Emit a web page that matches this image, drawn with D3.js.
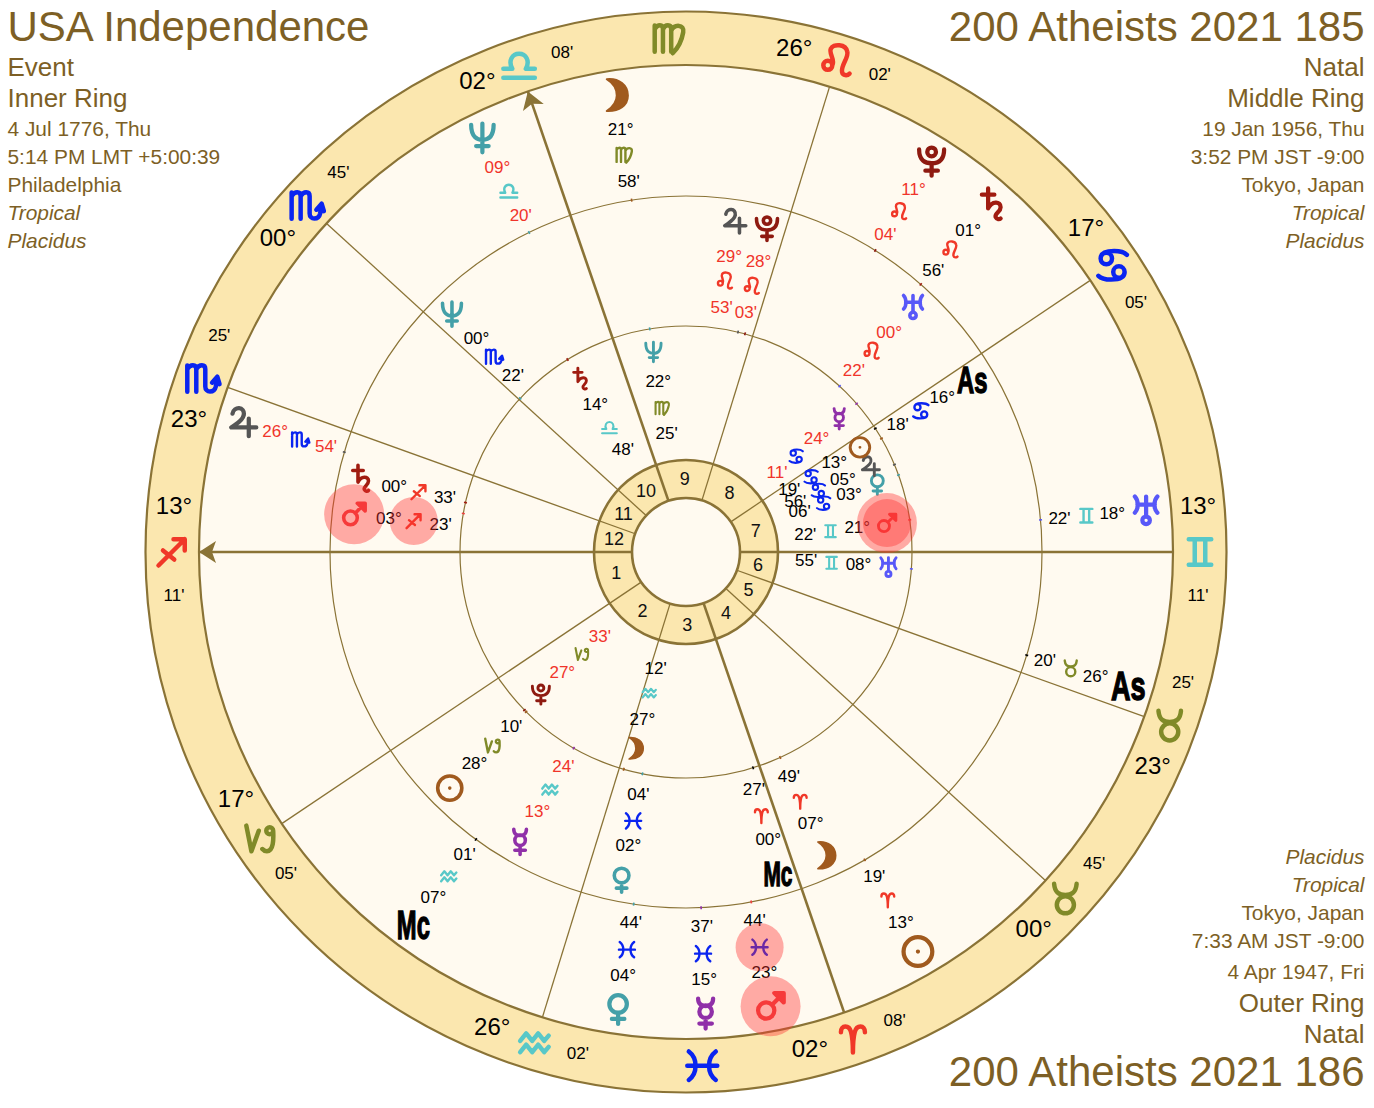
<!DOCTYPE html>
<html>
<head>
<meta charset="utf-8">
<title>Tri-wheel chart</title>
<script src="https://cdn.jsdelivr.net/npm/d3@7.9.0/dist/d3.min.js"></script>
<style>
  html, body { margin: 0; padding: 0; background: #fff; }
  svg { display: block; font-family: "Liberation Sans", Arial, sans-serif; }
</style>
</head>
<body>
<svg id="wheel" width="1374" height="1108"></svg>
<script>
// chart text
const leftLines = ['USA Independence', 'Event', 'Inner Ring', '4 Jul 1776, Thu', '5:14 PM LMT +5:00:39', 'Philadelphia', 'Tropical', 'Placidus'];
const rightLines = ['200 Atheists 2021 185', 'Natal', 'Middle Ring', '19 Jan 1956, Thu', '3:52 PM JST -9:00', 'Tokyo, Japan', 'Tropical', 'Placidus'];
const bottomLines = ['Placidus', 'Tropical', 'Tokyo, Japan', '7:33 AM JST -9:00', '4 Apr 1947, Fri', 'Outer Ring', 'Natal', '200 Atheists 2021 186'];

const signNames = ['Ari', 'Tau', 'Gem', 'Can', 'Leo', 'Vir', 'Lib', 'Sco', 'Sag', 'Cap', 'Aqu', 'Pis'];

// house cusps, house 1 first
const cuspSigns = ['Sag', 'Cap', 'Aqu', 'Ari', 'Tau', 'Tau', 'Gem', 'Can', 'Leo', 'Lib', 'Sco', 'Sco'];
const cuspDeg = [13, 17, 26, 2, 0, 23, 13, 17, 26, 2, 0, 23];
const cuspMin = [11, 5, 2, 8, 45, 25, 11, 5, 2, 8, 45, 25];
const axisHouses = [1, 4, 7, 10];
const arrowHouses = [1, 10];
// signs with no cusp, shown mid-sign
const interceptedSigns = ['Vir', 'Pis'];

// inner ring
const innerBodies = ['Neptune', 'Saturn', 'Moon', 'Mars', 'Uranus', 'Venus', 'Jupiter', 'Sun', 'Mercury', 'Pluto'];
const innerSigns = ['Vir', 'Lib', 'Aqu', 'Gem', 'Gem', 'Can', 'Can', 'Can', 'Can', 'Cap'];
const innerDeg = [22, 14, 27, 21, 8, 3, 5, 13, 24, 27];
const innerMin = [25, 48, 12, 22, 55, 6, 56, 19, 11, 33];
const innerRetro = [0, 0, 0, 0, 0, 0, 0, 0, 1, 1];
const innerDodge = [0, 0, 1.4, 0, 0, -0.4, 2.2, 0.9, 0, 0];

// middle ring
const middleBodies = ['Sun', 'Moon', 'Mercury', 'Venus', 'Mars', 'Jupiter', 'Saturn', 'Uranus', 'Neptune', 'Pluto', 'As', 'Mc'];
const middleSigns = ['Cap', 'Ari', 'Aqu', 'Pis', 'Sag', 'Leo', 'Sag', 'Leo', 'Sco', 'Leo', 'Can', 'Ari'];
const middleDeg = [28, 7, 13, 2, 3, 29, 0, 0, 0, 28, 16, 0];
const middleMin = [10, 49, 24, 4, 23, 53, 33, 22, 22, 3, 18, 27];
const middleRetro = [0, 0, 1, 0, 0, 1, 0, 1, 0, 1, 0, 0];
const middleDodge = [0, 0, 0, 0, 3.3, 5, 0, 0, -2.7, 1.1, -2.1, -1.3];

// outer ring
const outerBodies = ['Sun', 'Moon', 'Mercury', 'Venus', 'Mars', 'Jupiter', 'Saturn', 'Uranus', 'Neptune', 'Pluto', 'As', 'Mc'];
const outerSigns = ['Ari', 'Vir', 'Pis', 'Pis', 'Pis', 'Sco', 'Leo', 'Gem', 'Lib', 'Leo', 'Tau', 'Aqu'];
const outerDeg = [13, 21, 15, 4, 23, 26, 1, 18, 9, 11, 26, 7];
const outerMin = [19, 58, 37, 44, 44, 54, 56, 22, 20, 4, 20, 1];
const outerRetro = [0, 0, 0, 0, 0, 1, 0, 0, 1, 1, 0, 0];
const outerDodge = [0, 0, 0, 0, 0, 0, 0, 0, 0, 0, 0, 0];

const cx = 686, cy = 552;
const R = { outer: 540.5, zodiac: 487, mid: 356, inner: 226, house: 92, hub: 54 };
const ink = '#8a7336';
const textInk = '#7d5f25';
const red = '#f0342a';

const bodyColor = {
  Sun: '#a05a1e', Moon: '#a05a1e', Mercury: '#9030a8', Venus: '#44a0a8', Mars: '#f04040',
  Jupiter: '#555555', Saturn: '#a01c10', Uranus: '#5858f8', Neptune: '#44a0a8', Pluto: '#8e1a10',
  As: '#000', Mc: '#000'
};
const signColor = {
  Ari: '#f03828', Leo: '#f03828', Sag: '#f03828',
  Tau: '#808a28', Vir: '#808a28', Cap: '#808a28',
  Gem: '#58c8c8', Lib: '#58c8c8', Aqu: '#58c8c8',
  Can: '#0a24f0', Sco: '#0a24f0', Pis: '#0a24f0'
};

function ring(x, y, r) {
  return `M${x - r},${y}a${r},${r} 0 1,0 ${2 * r},0a${r},${r} 0 1,0 ${-2 * r},0`;
}

// glyph outlines in a 24 unit box around 0,0
const glyphs = {
  Sun: ring(0, 0, 11.5) + 'M0,0h.01',
  Moon: 'M-7,-13C3,-14 10,-8 10,0C10,8 3,13 -7,12.5C-2,9 1,4 1,0C1,-5 -2,-10 -7,-13Z',
  Mercury: 'M-6,-12C-6,-7 -3,-6 0,-6C3,-6 6,-7 6,-12' + ring(0, -1.5, 5) + 'M0,3.5V12M-5,8H5',
  Venus: ring(0, -4, 7) + 'M0,3V12M-5,8H5',
  Mars: ring(-3.5, 3.5, 6.5) + 'M1,-1L9,-9M3,-10.5H10.5V-3Z',
  Jupiter: 'M-8,-7C-7,-13 2,-13 1,-6C0,-1 -5,1 -9,4H11M5,-3V11',
  Saturn: 'M-7,-8H3M-2,-13V3C1,-3 8,-3 8,2C8,6 3,7 4,10C5,12 7,12 8,11',
  Uranus: 'M-9,-11C-6,-8 -6,-1 -9,2M9,-11C6,-8 6,-1 9,2M-7,-4.5H7M0,-11V4' + ring(0, 8, 3),
  Neptune: 'M-9,-10C-9,0 -4,2 0,2C4,2 9,0 9,-10M0,-11V12M-5,7H5',
  Pluto: 'M-10,-9C-10,0 -5,2 0,2C5,2 10,0 10,-9' + ring(0, -7, 3.5) + 'M0,2V12M-5,8H5',
  Ari: 'M-8,-4C-8,-9 -2.5,-9 -1.2,-4C-0.4,-1 0,3 0,9.5C0,3 0.4,-1 1.2,-4C2.5,-9 8,-9 8,-4',
  Tau: ring(0, 4, 5.7) + 'M-7.5,-10C-7,-4 -4,-2.5 0,-2.5C4,-2.5 7,-4 7.5,-10',
  Gem: 'M-7.5,-8.5H7.5M-7.5,8.5H7.5M-3.5,-8.5V8.5M3.5,-8.5V8.5',
  Can: ring(-4.2, -4.5, 3.8) + ring(4.2, 4.5, 3.8) + 'M-8,-4.5C-8,-9 -3,-9.5 1,-9.5C4,-9.5 7.5,-9 9.5,-7M8,4.5C8,9 3,9.5 -1,9.5C-4,9.5 -7.5,9 -9.5,7',
  Leo: ring(-6.5, 3, 3) + 'M-3.5,3C-1.5,-1 -6,-5 -4.5,-8C-3,-11.5 5.5,-11.5 6.5,-6C7.5,-2 2,3 3,7.5C3.5,10 6.5,10 8,8.5',
  Vir: 'M-10,-8.5V9M-10,-6C-8,-9.5 -4.5,-9.5 -4.5,-6V9M-4.5,-6C-3,-9.5 1,-9.5 1,-6V9M1,-5C3,-9.5 10,-9.5 9,-4C8,2 5.5,6.5 2,10',
  Lib: 'M-10.5,8H10.5M-10.5,2H-4.5C-7.5,-3.5 -4.5,-8 0,-8C4.5,-8 7.5,-3.5 4.5,2H10.5',
  Sco: 'M-10,-8.5V9M-10,-6C-8,-9.5 -4,-9.5 -4,-6V9M-4,-6C-2,-9.5 2,-9.5 2,-6V5.5C2,10 8,10 9,5.5L10,0M6.5,3L10,-1L11.5,4',
  Sag: 'M-9,9L8.5,-8.5M1,-8.5H8.5V-1M-6,-1L1.5,5',
  Cap: 'M-8.7,-8.7L-5.3,8.4L-0.4,-5.3' + ring(6.9, -5.3, 2.3) + 'M9.2,-5.3C9.5,0 9.5,8.4 5,8.4C3.5,8.4 2.5,7.5 2,6.9',
  Aqu: 'M-9.5,-1.5L-5.5,-6.5L-1.5,-1.5L2.5,-6.5L6.5,-1.5L9.5,-5M-9.5,6L-5.5,1L-1.5,6L2.5,1L6.5,6L9.5,2.5',
  Pis: 'M-9,-9.5C-3,-5 -3,5 -9,9.5M9,-9.5C3,-5 3,5 9,9.5M-10,0H10'
};

function signLon(sign, deg, min) {
  return signNames.indexOf(sign) * 30 + deg + min / 60;
}
const cuspLon = cuspSigns.map((s, i) => signLon(s, cuspDeg[i], cuspMin[i]));

// longitude runs anticlockwise with the ascendant on the left
const angle = d3.scaleLinear()
  .domain([cuspLon[0], cuspLon[0] + 360])
  .range([-Math.PI / 2, -Math.PI / 2 - 2 * Math.PI]);

function norm(lon) {
  return lon < cuspLon[0] ? lon + 360 : lon;
}
function polar(lon, r) {
  const [x, y] = d3.pointRadial(angle(norm(lon)), r);
  return [cx + x, cy + y];
}
const pad = (n) => String(n).padStart(2, '0');

const svg = d3.select('#wheel');
const arc = d3.arc().startAngle(0).endAngle(2 * Math.PI);

// rings
const rings = svg.append('g').attr('transform', `translate(${cx},${cy})`);
rings.append('circle').attr('r', R.outer).attr('fill', '#fbe7af').attr('stroke', ink).attr('stroke-width', 2.2);
rings.append('circle').attr('r', R.zodiac).attr('fill', '#fffaf0').attr('stroke', ink).attr('stroke-width', 2.2);
rings.append('circle').attr('r', R.mid).attr('fill', 'none').attr('stroke', ink).attr('stroke-width', 1.2);
rings.append('circle').attr('r', R.inner).attr('fill', 'none').attr('stroke', ink).attr('stroke-width', 1.2);
rings.append('path')
  .attr('d', arc({ innerRadius: R.hub, outerRadius: R.house }))
  .attr('fill', '#fbe7af');

// cusp lines
cuspLon.forEach((lon, i) => {
  const thick = axisHouses.includes(i + 1);
  const [x1, y1] = polar(lon, R.hub);
  const [x2, y2] = polar(lon, R.zodiac);
  svg.append('line')
    .attr('x1', x1).attr('y1', y1).attr('x2', x2).attr('y2', y2)
    .attr('stroke', ink)
    .attr('stroke-width', thick ? 2.6 : 1.3);
});

rings.append('circle').attr('r', R.house).attr('fill', 'none').attr('stroke', ink).attr('stroke-width', 2.6);
rings.append('circle').attr('r', R.hub).attr('fill', '#fffaf0').attr('stroke', ink).attr('stroke-width', 2.6);

// arrow heads on Asc and Mc
arrowHouses.forEach((h) => {
  const lon = cuspLon[h - 1];
  const [x, y] = polar(lon, R.zodiac);
  const rot = -(angle(norm(lon)) * 180) / Math.PI;
  svg.append('path')
    .attr('d', 'M0,0L17,-11L13,0L17,11Z')
    .attr('fill', ink)
    .attr('transform', `translate(${x},${y}) rotate(${90 - rot})`);
});

// house numbers
cuspLon.forEach((lon, i) => {
  const next = norm(cuspLon[(i + 1) % 12]);
  const end = next < norm(lon) ? next + 360 : next;
  const [x, y] = polar((norm(lon) + end) / 2 % 360, 73);
  svg.append('text')
    .attr('x', x).attr('y', y)
    .attr('text-anchor', 'middle').attr('dominant-baseline', 'central')
    .attr('font-size', 18).attr('fill', '#111')
    .text(i + 1);
});

function drawGlyph(name, color, x, y, scale, width) {
  if (name === 'Moon') {
    svg.append('path').attr('d', glyphs[name]).attr('fill', color)
      .attr('stroke', color).attr('stroke-width', 1.5).attr('stroke-linejoin', 'round')
      .attr('transform', `translate(${x},${y}) scale(${scale})`);
    return;
  }
  svg.append('path')
    .attr('d', glyphs[name])
    .attr('fill', 'none')
    .attr('stroke', color)
    .attr('stroke-width', width || 3)
    .attr('stroke-linecap', 'round')
    .attr('stroke-linejoin', 'round')
    .attr('transform', `translate(${x},${y}) scale(${scale})`);
}

function drawLabel(str, x, y, size, color) {
  svg.append('text')
    .attr('x', x).attr('y', y)
    .attr('text-anchor', 'middle').attr('dominant-baseline', 'central')
    .attr('font-size', size).attr('fill', color)
    .text(str);
}

// zodiac band: sign on each cusp with its degree and minute either side
cuspLon.forEach((lon, i) => {
  const [gx, gy] = polar(lon, 514);
  drawGlyph(cuspSigns[i], signColor[cuspSigns[i]], gx, gy, 1.5);
  const degSide = gy <= cy + 0.5 ? 5 : -5;
  const [dx, dy] = polar(lon + (lon === cuspLon[0] ? -5 : degSide), 514);
  const [mx, my] = polar(lon - (lon === cuspLon[0] ? -5 : degSide), 514);
  drawLabel(pad(cuspDeg[i]) + '°', dx, dy - 2, 24, '#000');
  drawLabel(pad(cuspMin[i]) + "'", mx, my - 1, 17, '#000');
});
interceptedSigns.forEach((s) => {
  const [x, y] = polar(signLon(s, 15, 0), 514);
  drawGlyph(s, signColor[s], x, y, 1.5);
});

function drawRing(bodies, signs, degs, mins, retro, dodge, cfg) {
  bodies.forEach((body, i) => {
    const lon = signLon(signs[i], degs[i], mins[i]);
    const shown = (lon + dodge[i] + 360) % 360;
    const textColor = retro[i] ? red : '#000';

    // true position tick
    const [t1x, t1y] = polar(lon, cfg.tick - 1.5);
    const [t2x, t2y] = polar(lon, cfg.tick + 1.5);
    svg.append('line')
      .attr('x1', t1x).attr('y1', t1y).attr('x2', t2x).attr('y2', t2y)
      .attr('stroke', bodyColor[body])
      .attr('stroke-width', 1.6);

    const [gx, gy] = polar(shown, cfg.glyph);
    if (body === 'As' || body === 'Mc') {
      svg.append('text')
        .attr('transform', `translate(${gx},${gy}) scale(${body === 'As' ? 0.66 : 0.58},1)`)
        .attr('text-anchor', 'middle').attr('dominant-baseline', 'central')
        .attr('font-family', '"Liberation Sans Narrow", "Liberation Sans", sans-serif')
        .attr('font-weight', 'bold')
        .attr('font-size', cfg.angleSize)
        .attr('stroke', '#000').attr('stroke-width', 1.4)
        .attr('fill', '#000')
        .text(body);
    } else {
      drawGlyph(body, bodyColor[body], gx, gy, cfg.planetScale, 3.4);
    }
    const [dx, dy] = polar(shown, cfg.deg);
    drawLabel(pad(degs[i]) + '°', dx, dy, 17, textColor);
    const [sx, sy] = polar(shown, cfg.sign);
    drawGlyph(signs[i], signColor[signs[i]], sx, sy, cfg.signScale, 3);
    const [mx, my] = polar(shown, cfg.min);
    drawLabel(pad(mins[i]) + "'", mx, my, 17, textColor);
  });
}

const innerCfg = { glyph: 203, deg: 173, sign: 146, min: 120.5, tick: R.inner, planetScale: 0.85, signScale: 0.7 };
const middleCfg = { glyph: 334, deg: 299, sign: 274, min: 247, tick: R.inner, planetScale: 1.05, signScale: 0.8, angleSize: 36 };
const outerCfg = { glyph: 462, deg: 428, sign: 402, min: 375, tick: R.mid, planetScale: 1.25, signScale: 0.8, angleSize: 41 };

drawRing(innerBodies, innerSigns, innerDeg, innerMin, innerRetro, innerDodge, innerCfg);
drawRing(middleBodies, middleSigns, middleDeg, middleMin, middleRetro, middleDodge, middleCfg);
drawRing(outerBodies, outerSigns, outerDeg, outerMin, outerRetro, outerDodge, outerCfg);

// red halos sit over the marks
function halo(lon, r, size) {
  const [x, y] = polar(lon, r);
  svg.append('circle')
    .attr('cx', x).attr('cy', y).attr('r', size)
    .attr('fill', 'rgb(255,50,50)').attr('fill-opacity', 0.4);
}
function ringLon(signs, degs, mins, dodge, name, bodies) {
  const i = bodies.indexOf(name);
  return signLon(signs[i], degs[i], mins[i]) + dodge[i];
}
const innerMars = ringLon(innerSigns, innerDeg, innerMin, innerDodge, 'Mars', innerBodies);
const middleMars = ringLon(middleSigns, middleDeg, middleMin, middleDodge, 'Mars', middleBodies);
const outerMars = ringLon(outerSigns, outerDeg, outerMin, outerDodge, 'Mars', outerBodies);
halo(innerMars, innerCfg.glyph, 30);
halo(innerMars, innerCfg.glyph, 24);
halo(middleMars, middleCfg.glyph, 30);
halo(middleMars, middleCfg.sign, 24);
halo(outerMars, outerCfg.glyph, 30);
halo(outerMars, outerCfg.sign, 24);

// corner text
function corner(lines, x, anchor, baselines, sizes) {
  lines.forEach((line, i) => {
    svg.append('text')
      .attr('x', x).attr('y', baselines[i])
      .attr('text-anchor', anchor)
      .attr('font-size', sizes[i])
      .attr('font-style', line === 'Tropical' || line === 'Placidus' ? 'italic' : 'normal')
      .attr('fill', textInk)
      .text(line);
  });
}
const topBase = [41, 76, 107, 136, 164, 192, 220, 248];
const topSize = [42, 26, 26, 20.9, 20.9, 20.9, 20.9, 20.9];
corner(leftLines, 7.5, 'start', topBase, topSize);
corner(rightLines, 1364.5, 'end', topBase, topSize);
corner(bottomLines, 1364.5, 'end', [864, 892, 920, 948, 979, 1012, 1043, 1086], [20.9, 20.9, 20.9, 20.9, 20.9, 26, 26, 42]);
</script>
</body>
</html>
